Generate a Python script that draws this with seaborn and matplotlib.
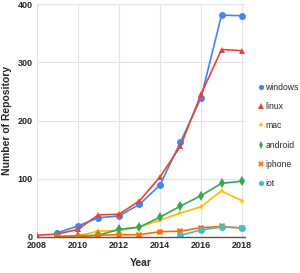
import matplotlib
matplotlib.use("Agg")
import matplotlib.pyplot as plt
import pandas as pd
import seaborn as sns

# values
windows_years = [2009, 2010, 2011, 2012, 2013, 2014, 2015, 2016, 2017, 2018]
windows = [7, 19, 33, 36, 56, 89, 163, 239, 381, 380]

linux_years = [2008, 2009, 2010, 2011, 2012, 2013, 2014, 2015, 2016, 2017, 2018]
linux = [3, 5, 13, 38, 39, 62, 103, 156, 245, 322, 320]

mac_years = [2009, 2010, 2011, 2012, 2013, 2014, 2015, 2016, 2017, 2018]
mac = [0, 2, 10, 11, 17, 29, 41, 52, 79, 62]

android_years = [2009, 2010, 2011, 2012, 2013, 2014, 2015, 2016, 2017, 2018]
android = [1, 2, 3, 13, 17, 34, 53, 71, 92, 96]

iphone_years = [2009, 2010, 2011, 2012, 2013, 2014, 2015, 2016, 2017, 2018]
iphone = [0, 0, 3, 4, 4, 9, 10, 16, 18, 15]

iot_years = [2015, 2016, 2017, 2018]
iot = [3, 12, 17, 16]

series_names = ["windows", "linux", "mac", "android", "iphone", "iot"]
colors = ["#4285F4", "#EA4335", "#FBBC04", "#34A853", "#FF6D01", "#46BDC6"]
markers = ["o", "^", "*", "d", "X", "o"]

frames = []
for name, yrs, vals in [("windows", windows_years, windows), ("linux", linux_years, linux),
                        ("mac", mac_years, mac), ("android", android_years, android),
                        ("iphone", iphone_years, iphone), ("iot", iot_years, iot)]:
    frames.append(pd.DataFrame({"Year": yrs, "Count": vals, "os": name}))
df = pd.concat(frames, ignore_index=True)

sns.set_style("whitegrid")
plt.rcParams["font.family"] = ["Liberation Sans", "DejaVu Sans"]

fig = plt.figure(figsize=(3.0, 2.73), dpi=100)
ax = fig.add_axes([0.123, 0.132, 0.694, 0.853])

sns.lineplot(data=df, x="Year", y="Count", hue="os", style="os",
             hue_order=series_names, style_order=series_names,
             palette=colors, markers=markers, dashes=False,
             markersize=5, markeredgewidth=0, linewidth=1.2, ax=ax)

ax.set_xlim(2008, 2018.15)
ax.set_ylim(0, 400)
ax.set_xticks([2008, 2010, 2012, 2014, 2016, 2018])
ax.set_yticks([0, 100, 200, 300, 400])
ax.grid(color="#e3e3e3", linewidth=0.8)
for side in ["top", "right", "left"]:
    ax.spines[side].set_visible(False)
ax.spines["bottom"].set_color("#555555")
ax.spines["bottom"].set_linewidth(1.0)
ax.tick_params(axis="both", labelsize=6.5, length=0, pad=3)
for lbl in ax.get_xticklabels() + ax.get_yticklabels():
    lbl.set_fontweight("bold")

ax.set_xlabel("Year", fontsize=7.5, fontweight="bold", labelpad=6)
ax.set_ylabel("Number of Repository", fontsize=7.5, fontweight="bold", labelpad=4)

leg = ax.legend(loc="center left", bbox_to_anchor=(1.05, 0.435), frameon=False,
                fontsize=6.2, handlelength=0.5, handletextpad=0.25,
                labelspacing=1.2, borderaxespad=0)
for line in leg.get_lines():
    line.set_linestyle("none")
    line.set_markersize(3.8)

fig.savefig("out.png", dpi=100)
